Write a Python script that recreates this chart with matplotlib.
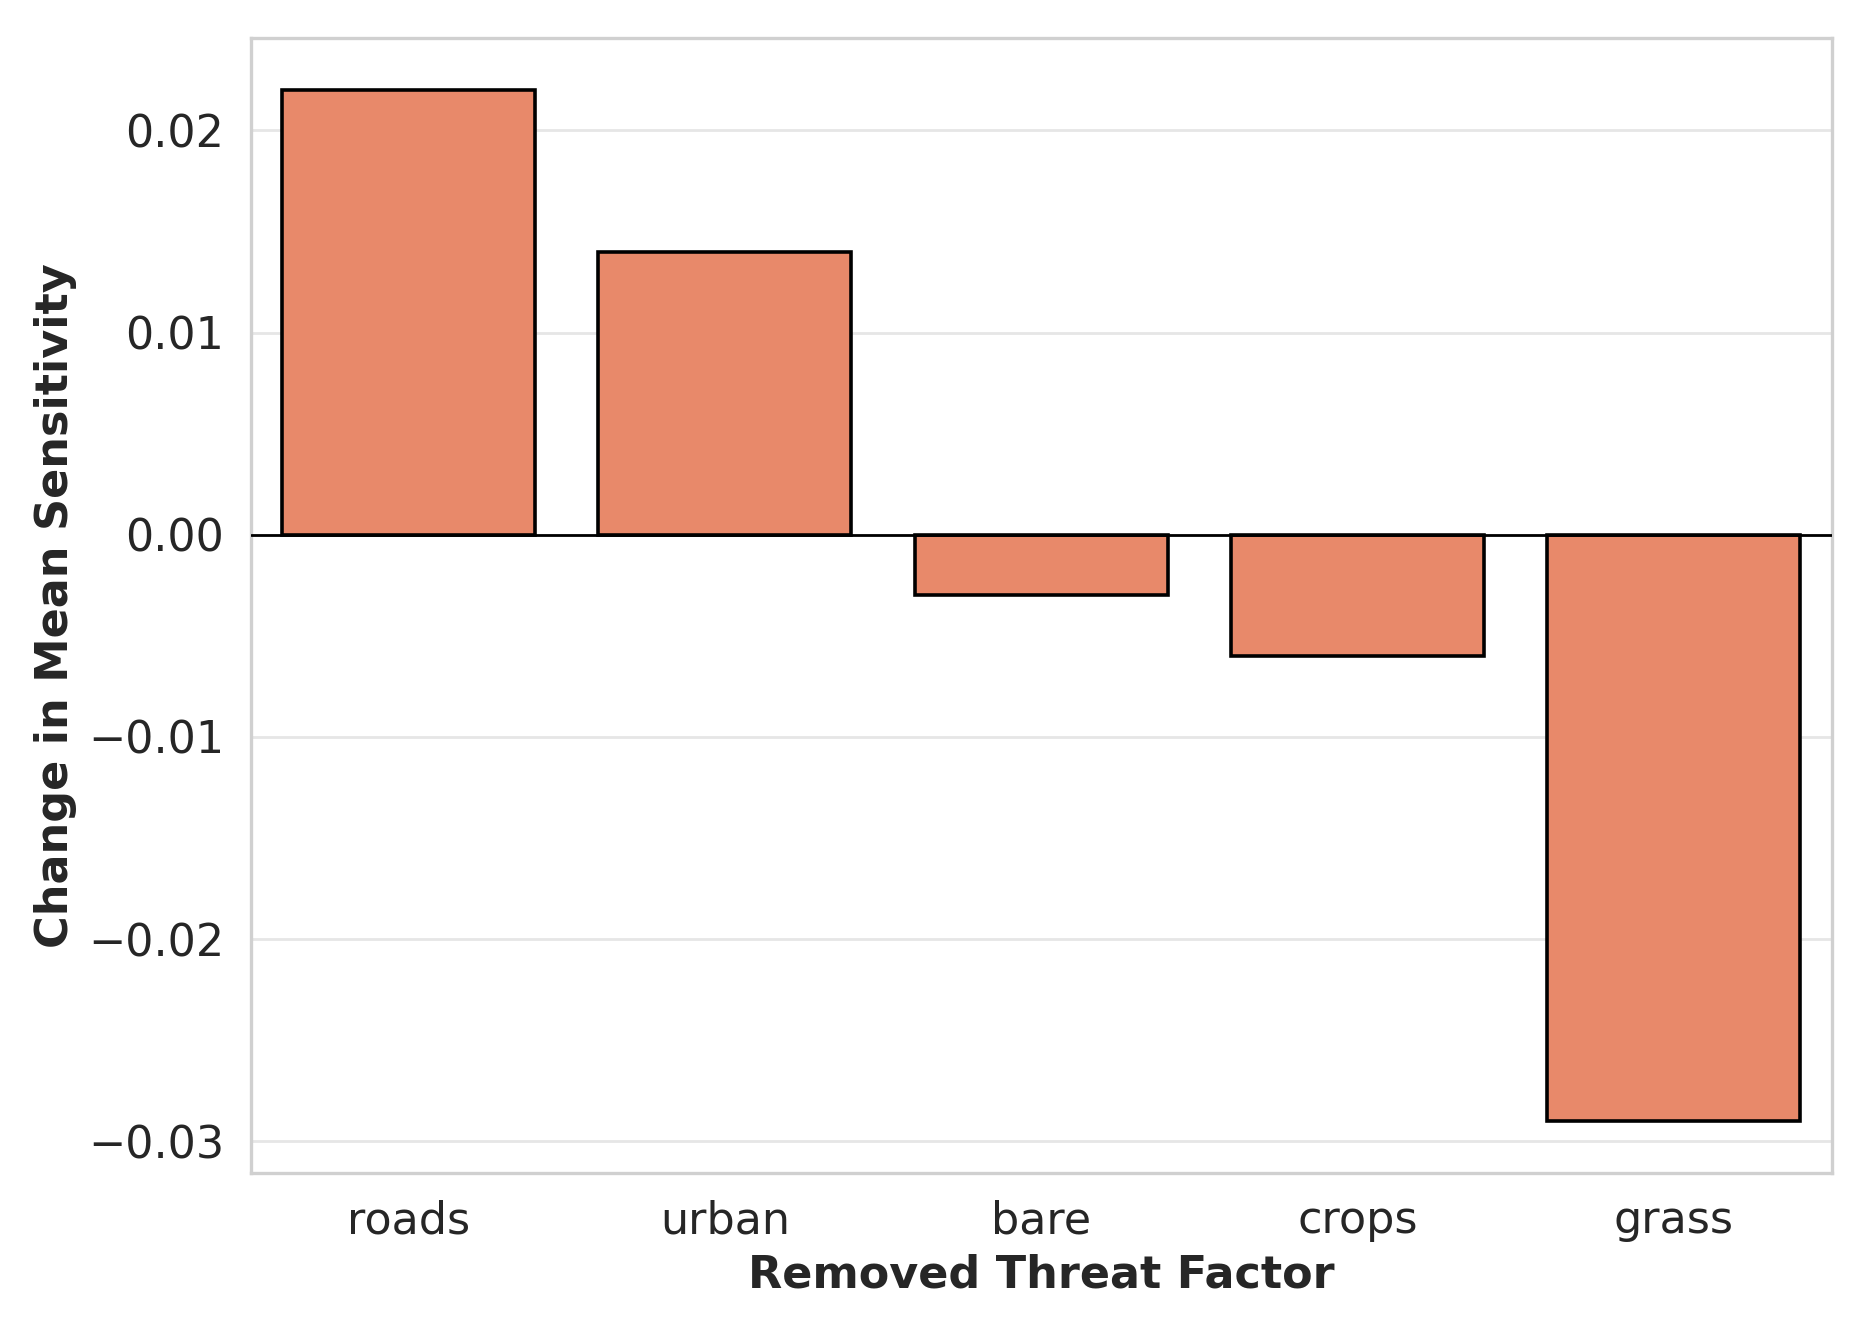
import matplotlib
matplotlib.use("Agg")
import matplotlib.pyplot as plt
import seaborn as sns

factors = ["roads", "urban", "bare", "crops", "grass"]
delta = [0.022, 0.014, -0.003, -0.006, -0.029]

sns.set_theme(style="whitegrid")
plt.rcParams['font.family'] = ['DejaVu Sans']

fig, ax = plt.subplots(figsize=(9.28, 6.625), dpi=200)
ax.bar(factors, delta, width=0.8, color="#E8896A", edgecolor="black", linewidth=1.3, zorder=2)
ax.axhline(0, color="black", linewidth=1.0, zorder=3)

ax.set_xlim(-0.5, 4.5)
ax.margins(y=0.05)
ax.set_xlabel("Removed Threat Factor", fontsize=16, fontweight="bold", color="#262626", labelpad=4)
ax.set_ylabel("Change in Mean Sensitivity", fontsize=16, fontweight="bold", color="#262626")
ax.tick_params(axis="both", labelsize=16, colors="#262626")
ax.grid(axis="x", visible=False)
ax.grid(axis="y", color="#e6e6e6", linewidth=1.0)
for s in ax.spines.values():
    s.set_edgecolor("#d0d0d0")
    s.set_linewidth(1.2)

fig.subplots_adjust(left=0.135, right=0.987, top=0.971, bottom=0.115)
fig.savefig("out.png", dpi=200)
